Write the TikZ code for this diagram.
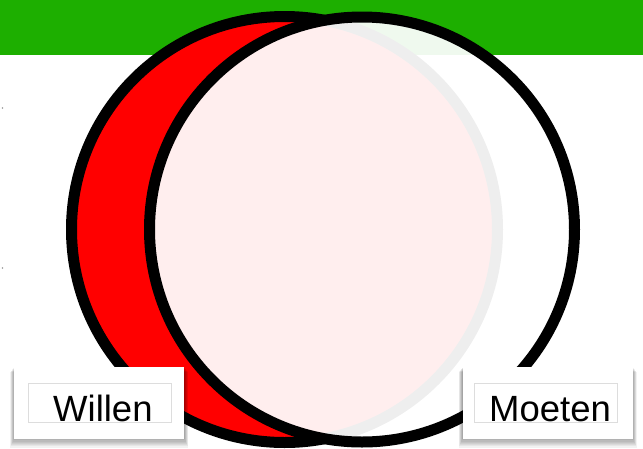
\documentclass[tikz,border=0pt]{standalone}
\usepackage{fontspec}
\setmainfont{Liberation Sans}
\usepackage{xcolor}
\usetikzlibrary{positioning}
\definecolor{bargreen}{HTML}{1DAF00}
\definecolor{setred}{HTML}{FF0000}
\definecolor{fieldgray}{HTML}{DDDDDD}
\definecolor{dotgray}{HTML}{999999}

\begin{document}
\begin{tikzpicture}[x=1pt,y=-1pt,font=\fontsize{36.5}{40}\selectfont,
  setc/.style={circle,draw=black,line width=11pt,inner sep=0pt},
  card/.style={fill=white,minimum width=170pt,minimum height=72pt,inner sep=0pt},
  field/.style={draw=fieldgray,line width=0.6pt,fill=white,minimum width=143pt,
    minimum height=39pt,inner sep=0pt}]
\useasboundingbox (0,0) rectangle (643,448);
\fill[bargreen] (0,0) rectangle (643,55);
\fill[dotgray] (2.5,108) circle (0.8pt);
\fill[dotgray] (2.5,268) circle (0.8pt);
% the two sets
\node[setc,fill=setred,minimum size=426pt] (willenset) at (284.5,229.5) {};
\node[setc,fill=white,fill opacity=0.933,minimum size=425pt] (moetenset) at (362,229.5) {};
% soft shadows under the labels
\foreach \cx in {99,547.5}
  \foreach \i in {1,...,8}
    \fill[black,opacity=0.05] (\cx-85-0.5*\i,367+0.6*\i) rectangle (\cx+85+0.5*\i,438+1.2*\i);
% labels
\node[card] (willencard) at (99,403) {};
\node[field] (willenfield) at (99.5,402.5) {};
\node[anchor=base west,inner sep=0pt] (willen) at (53,421) {Willen};
\node[card] (moetencard) at (547.5,403) {};
\node[field] (moetenfield) at (546,403) {};
\node[anchor=base west,inner sep=0pt] (moeten) at (489,421) {Moeten};
\end{tikzpicture}
\end{document}
